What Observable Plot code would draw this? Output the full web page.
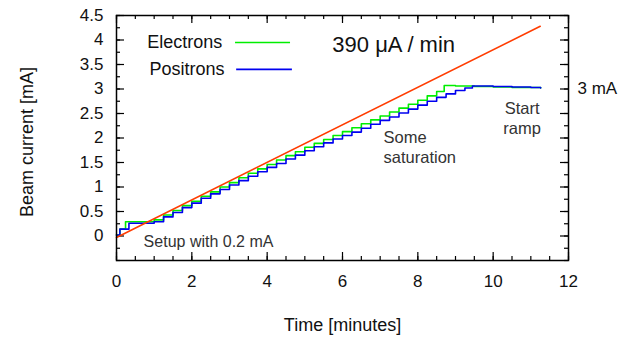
<!DOCTYPE html>
<html><head><meta charset="utf-8">
<script src="https://cdn.jsdelivr.net/npm/d3@7"></script>
<script src="https://cdn.jsdelivr.net/npm/@observablehq/plot@0.6"></script>
<style>body{margin:0;background:#fff} svg{display:block}</style>
</head><body><div id="chart"></div>
<script>
// Electrons (green) beam current [mA] vs time [min]
const electronT = [0, 0.09, 0.24, 1.00, 1.25, 1.50, 1.75, 2.00, 2.25, 2.50, 2.75, 3.00, 3.25, 3.50, 3.75, 4.00, 4.25, 4.50, 4.75, 5.00, 5.25, 5.50, 5.75, 6.00, 6.25, 6.50, 6.75, 7.00, 7.25, 7.50, 7.75, 8.00, 8.25, 8.50, 8.70, 9.00, 9.50, 10.00, 10.50, 11.00, 11.26];
const electronI = [0.02, 0.14, 0.29, 0.33, 0.43, 0.52, 0.62, 0.71, 0.81, 0.90, 1.00, 1.09, 1.19, 1.28, 1.37, 1.46, 1.55, 1.64, 1.72, 1.81, 1.89, 1.97, 2.05, 2.13, 2.21, 2.29, 2.37, 2.45, 2.53, 2.61, 2.69, 2.77, 2.86, 2.95, 3.07, 3.06, 3.05, 3.04, 3.03, 3.03, 3.02];
// Positrons (blue)
const positronT = [0, 0.09, 0.24, 0.33, 1.00, 1.25, 1.50, 1.75, 2.00, 2.25, 2.50, 2.75, 3.00, 3.25, 3.50, 3.75, 4.00, 4.25, 4.50, 4.75, 5.00, 5.25, 5.50, 5.75, 6.00, 6.25, 6.50, 6.75, 7.00, 7.25, 7.50, 7.75, 8.00, 8.25, 8.50, 8.75, 9.00, 9.25, 9.45, 10.00, 10.50, 11.00, 11.26];
const positronI = [0.02, 0.14, 0.14, 0.26, 0.29, 0.39, 0.48, 0.58, 0.67, 0.77, 0.86, 0.95, 1.04, 1.13, 1.22, 1.31, 1.40, 1.48, 1.57, 1.65, 1.74, 1.82, 1.90, 1.98, 2.05, 2.12, 2.20, 2.28, 2.36, 2.43, 2.51, 2.59, 2.67, 2.75, 2.83, 2.90, 2.97, 3.02, 3.06, 3.05, 3.04, 3.03, 3.02];
// Nominal ramp 390 µA/min (red)
const rampT = [0, 11.25];
const rampI = [-0.03, 4.28];

const xTicks = [0, 2, 4, 6, 8, 10, 12];
const xMinor = d3.range(0, 12.01, 0.5);
const yTicks = [0, 0.5, 1, 1.5, 2, 2.5, 3, 3.5, 4, 4.5];
const yMinor = d3.range(-0.5, 4.51, 0.25);

const electrons = electronT.map((t, i) => ({t, v: electronI[i]}));
const positrons = positronT.map((t, i) => ({t, v: positronI[i]}));
const ramp = rampT.map((t, i) => ({t, v: rampI[i]}));

const W = 626, H = 339, mL = 116, mR = 58, mT = 15, mB = 79;
const fw = W - mL - mR, fh = H - mT - mB;
const tickStroke = {stroke: "#000", strokeWidth: 1.2};
const GREEN = "#00ee00", BLUE = "#0000f0", RED = "#ff3c00";

const plot = Plot.plot({
  width: W, height: H,
  marginLeft: mL, marginRight: mR, marginTop: mT, marginBottom: mB,
  style: {fontFamily: "'Liberation Sans', Arial, Helvetica, sans-serif", fontSize: "17px", color: "#111", background: "#fff"},
  x: {domain: [0, 12]},
  y: {domain: [-0.5, 4.5]},
  marks: [
    // inward ticks on all four sides
    Plot.ruleX(xTicks, {x: d => d, insetTop: fh - 8, ...tickStroke}),
    Plot.ruleX(xMinor, {x: d => d, insetTop: fh - 4, ...tickStroke}),
    Plot.ruleX(xTicks, {x: d => d, insetBottom: fh - 8, ...tickStroke}),
    Plot.ruleX(xMinor, {x: d => d, insetBottom: fh - 4, ...tickStroke}),
    Plot.ruleY(yTicks, {y: d => d, insetRight: fw - 8, ...tickStroke}),
    Plot.ruleY(yMinor, {y: d => d, insetRight: fw - 4, ...tickStroke}),
    Plot.ruleY(yTicks, {y: d => d, insetLeft: fw - 8, ...tickStroke}),
    Plot.ruleY(yMinor, {y: d => d, insetLeft: fw - 4, ...tickStroke}),
    Plot.axisX(xTicks, {tickSize: 0, tickPadding: 14, tickFormat: d => String(d), label: null, fontSize: 17}),
    Plot.axisY(yTicks, {tickSize: 0, tickPadding: 13, tickFormat: d => String(d), label: null, fontSize: 17}),
    Plot.text(["Time [minutes]"], {frameAnchor: "bottom", dy: 70, text: d => d, fontSize: 18}),
    Plot.text(["Beam current [mA]"], {frameAnchor: "left", textAnchor: "middle", dx: -89, dy: 4, rotate: -90, text: d => d, fontSize: 18}),
    // data
    Plot.line(electrons, {x: "t", y: "v", curve: "step-after", stroke: GREEN, strokeWidth: 1.6}),
    Plot.line(positrons, {x: "t", y: "v", curve: "step-after", stroke: BLUE, strokeWidth: 1.6}),
    Plot.line(ramp, {x: "t", y: "v", stroke: RED, strokeWidth: 1.6}),
    // legend
    Plot.text(["Electrons"], {x: 2.81, y: 3.95, text: d => d, textAnchor: "end", fontSize: 18, fill: "#111"}),
    Plot.ruleY([3.95], {x1: 3.16, x2: 4.62, stroke: GREEN, strokeWidth: 1.6}),
    Plot.text(["Positrons"], {x: 2.87, y: 3.40, text: d => d, textAnchor: "end", fontSize: 18, fill: "#111"}),
    Plot.ruleY([3.40], {x1: 3.19, x2: 4.67, stroke: BLUE, strokeWidth: 1.6}),
    // annotations
    Plot.text(["390 \u03bcA / min"], {x: 5.73, y: 3.89, text: d => d, textAnchor: "start", fontSize: 22, fill: "#111"}),
    Plot.text(["Setup with 0.2 mA"], {x: 0.72, y: -0.11, text: d => d, textAnchor: "start", fontSize: 16, fill: "#333"}),
    Plot.text(["Some\nsaturation"], {x: 7.09, y: 1.83, text: d => d, textAnchor: "start", lineHeight: 1.25, fontSize: 16.5, fill: "#333"}),
    Plot.text(["Start\nramp"], {x: 10.77, y: 2.42, text: d => d, textAnchor: "middle", lineHeight: 1.25, fontSize: 16.5, fill: "#333"}),
    Plot.text(["3 mA"], {x: 12, y: 3, dx: 9, text: d => d, textAnchor: "start", fontSize: 17, fill: "#111"}),
    Plot.frame({stroke: "#000", strokeWidth: 1.5})
  ]
});
document.getElementById("chart").appendChild(plot);
</script>
</body></html>
